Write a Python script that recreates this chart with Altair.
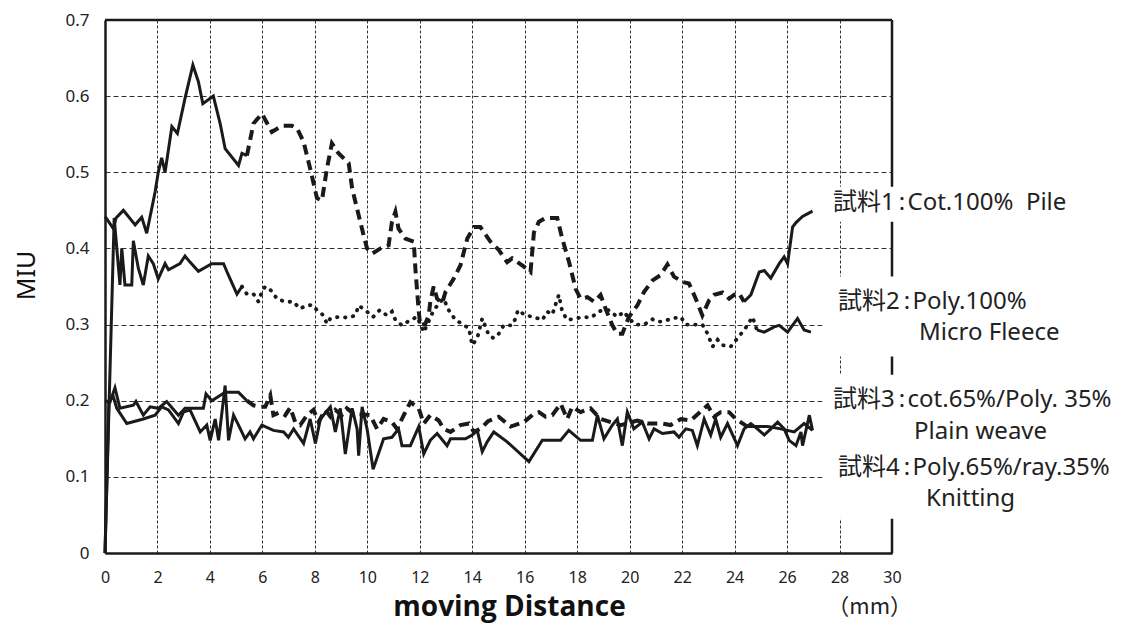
import altair as alt
import pandas as pd

# ---------------- data ----------------
S1_X = [0, 0.32, 0.42, 0.70, 1.15, 1.40, 1.59, 1.91, 2.03, 2.16,
        2.29, 2.55, 2.76, 3.05, 3.35, 3.56, 3.73, 4.13, 4.39, 4.58,
        5.09, 5.22, 5.41, 5.66, 5.98, 6.36, 6.74, 7.13, 7.32, 7.57,
        7.82, 8.08, 8.27, 8.46, 8.65, 8.90, 9.29, 9.42, 9.61, 9.86,
        9.99, 10.18, 10.50, 10.81, 10.94, 11.07, 11.19, 11.45, 11.77, 11.83,
        11.96, 12.02, 12.21, 12.34, 12.40, 12.53, 12.66, 12.85, 12.98, 13.29,
        13.55, 13.81, 14.06, 14.31, 14.69, 15.01, 15.33, 15.52, 15.97, 16.22,
        16.35, 16.54, 16.79, 17.24, 17.43, 17.69, 17.94, 18.13, 18.39, 18.64,
        18.89, 19.08, 19.34, 19.53, 19.72, 19.97, 20.29, 20.55, 20.87, 21.18,
        21.44, 21.69, 22.01, 22.26, 22.52, 22.77, 23.03, 23.22, 23.54, 23.79,
        23.98, 24.17, 24.36, 24.62, 24.94, 25.13, 25.38, 25.70, 25.89, 26.02,
        26.21, 26.34, 26.59, 26.97]
S1_Y = [0.442, 0.426, 0.440, 0.450, 0.431, 0.441, 0.420, 0.474, 0.500, 0.519,
        0.500, 0.560, 0.551, 0.597, 0.641, 0.619, 0.590, 0.600, 0.564, 0.531,
        0.509, 0.525, 0.522, 0.564, 0.577, 0.553, 0.561, 0.561, 0.558, 0.540,
        0.505, 0.466, 0.463, 0.505, 0.538, 0.525, 0.512, 0.479, 0.452, 0.417,
        0.400, 0.393, 0.400, 0.404, 0.435, 0.448, 0.426, 0.413, 0.409, 0.374,
        0.317, 0.299, 0.301, 0.312, 0.330, 0.350, 0.334, 0.328, 0.343, 0.360,
        0.378, 0.413, 0.428, 0.428, 0.409, 0.398, 0.382, 0.387, 0.376, 0.369,
        0.421, 0.435, 0.440, 0.440, 0.413, 0.382, 0.347, 0.334, 0.336, 0.330,
        0.339, 0.321, 0.299, 0.288, 0.288, 0.310, 0.325, 0.343, 0.358, 0.365,
        0.379, 0.363, 0.356, 0.354, 0.334, 0.312, 0.332, 0.339, 0.342, 0.334,
        0.339, 0.341, 0.330, 0.339, 0.369, 0.371, 0.361, 0.380, 0.389, 0.380,
        0.428, 0.434, 0.442, 0.449]

S2_X = [0, 0.35, 0.57, 0.64, 0.76, 1.02, 1.08, 1.27, 1.46, 1.65,
        1.84, 2.03, 2.29, 2.42, 2.86, 3.05, 3.24, 3.56, 4.07, 4.52,
        4.64, 4.77, 5.03, 5.22, 5.41, 5.66, 5.85, 5.98, 6.11, 6.36,
        6.55, 6.87, 7.19, 7.42, 7.63, 7.89, 8.08, 8.33, 8.46, 8.59,
        8.90, 9.29, 9.54, 9.67, 9.92, 10.22, 10.47, 10.75, 10.94, 11.07,
        11.32, 11.64, 11.90, 12.15, 12.53, 12.79, 12.91, 13.10, 13.36, 13.61,
        13.87, 14.00, 14.19, 14.38, 14.63, 14.82, 15.01, 15.20, 15.52, 15.65,
        15.74, 16.03, 16.35, 16.67, 16.86, 17.05, 17.21, 17.30, 17.43, 17.62,
        17.94, 18.26, 18.51, 18.89, 19.21, 19.53, 19.78, 19.97, 20.23, 20.55,
        20.87, 21.06, 21.25, 21.63, 21.95, 22.14, 22.45, 22.77, 22.97, 23.16,
        23.35, 23.54, 23.85, 24.11, 24.36, 24.49, 24.68, 24.85, 25.13, 25.51,
        25.70, 26.02, 26.40, 26.65, 26.91]
S2_Y = [0, 0.440, 0.352, 0.400, 0.352, 0.352, 0.410, 0.374, 0.352, 0.390,
        0.380, 0.360, 0.380, 0.372, 0.380, 0.390, 0.382, 0.370, 0.380, 0.380,
        0.370, 0.360, 0.340, 0.350, 0.340, 0.340, 0.330, 0.343, 0.350, 0.344,
        0.334, 0.330, 0.330, 0.321, 0.324, 0.326, 0.319, 0.312, 0.301, 0.308,
        0.310, 0.309, 0.312, 0.325, 0.319, 0.310, 0.319, 0.312, 0.317, 0.306,
        0.299, 0.306, 0.310, 0.290, 0.319, 0.330, 0.334, 0.319, 0.306, 0.301,
        0.295, 0.273, 0.282, 0.308, 0.286, 0.282, 0.288, 0.299, 0.299, 0.308,
        0.319, 0.312, 0.310, 0.306, 0.317, 0.313, 0.330, 0.339, 0.317, 0.306,
        0.308, 0.310, 0.309, 0.318, 0.319, 0.310, 0.317, 0.308, 0.300, 0.300,
        0.307, 0.304, 0.304, 0.308, 0.310, 0.300, 0.300, 0.300, 0.288, 0.271,
        0.280, 0.273, 0.271, 0.282, 0.293, 0.299, 0.310, 0.293, 0.290, 0.297,
        0.299, 0.290, 0.308, 0.293, 0.290]

S3_X = [0, 0.19, 0.38, 0.57, 1.08, 1.18, 1.46, 1.72, 2.03, 2.35,
        2.80, 3.05, 3.50, 3.75, 3.85, 4.07, 4.58, 5.09, 5.41, 5.66,
        5.92, 6.11, 6.30, 6.42, 6.68, 6.87, 7.06, 7.25, 7.44, 7.70,
        7.95, 8.14, 8.40, 8.59, 8.78, 9.03, 9.22, 9.48, 10.11, 10.37,
        10.62, 10.94, 11.13, 11.39, 11.64, 11.96, 12.15, 12.40, 12.72, 12.91,
        13.17, 13.55, 13.87, 14.06, 14.31, 14.60, 15.01, 15.46, 15.97, 16.35,
        16.54, 16.79, 17.05, 17.37, 17.62, 17.81, 18.13, 18.51, 18.89, 19.66,
        20.29, 20.68, 21.25, 21.56, 21.95, 22.33, 22.97, 23.22, 23.47, 23.79,
        24.05, 24.49, 25.26, 25.76, 26.27, 26.65, 26.97]
S3_Y = [0.200, 0.198, 0.217, 0.190, 0.194, 0.199, 0.181, 0.192, 0.190, 0.199,
        0.181, 0.190, 0.190, 0.190, 0.209, 0.200, 0.211, 0.211, 0.200, 0.194,
        0.192, 0.192, 0.207, 0.181, 0.185, 0.181, 0.191, 0.172, 0.168, 0.181,
        0.188, 0.172, 0.188, 0.179, 0.188, 0.181, 0.190, 0.183, 0.181, 0.163,
        0.176, 0.172, 0.163, 0.181, 0.198, 0.190, 0.170, 0.181, 0.174, 0.163,
        0.159, 0.168, 0.170, 0.159, 0.163, 0.173, 0.179, 0.166, 0.172, 0.183,
        0.185, 0.179, 0.181, 0.196, 0.176, 0.192, 0.185, 0.190, 0.176, 0.168,
        0.174, 0.170, 0.170, 0.168, 0.176, 0.174, 0.194, 0.179, 0.185, 0.185,
        0.176, 0.166, 0.166, 0.163, 0.159, 0.170, 0.161]

S4_X = [0, 0.15, 0.32, 0.45, 0.83, 1.46, 1.91, 2.16, 2.42, 2.80,
        2.99, 3.24, 3.63, 3.88, 4.01, 4.20, 4.33, 4.58, 4.71, 4.90,
        5.09, 5.34, 5.53, 5.66, 5.98, 6.42, 6.81, 6.99, 7.19, 7.57,
        7.82, 8.02, 8.21, 8.59, 8.78, 8.97, 9.16, 9.42, 9.61, 9.67,
        9.80, 9.99, 10.22, 10.62, 10.94, 11.19, 11.32, 11.64, 11.96, 12.15,
        12.40, 12.66, 13.04, 13.17, 13.74, 14.00, 14.19, 14.38, 14.57, 14.82,
        15.33, 16.16, 16.67, 17.37, 17.68, 18.13, 18.58, 18.77, 19.02, 19.34,
        19.53, 19.72, 19.91, 20.16, 20.48, 20.74, 20.93, 21.25, 21.69, 21.88,
        22.14, 22.39, 22.58, 22.84, 23.09, 23.28, 23.47, 23.73, 24.11, 24.36,
        24.62, 24.87, 25.13, 25.38, 25.64, 25.89, 26.08, 26.34, 26.53, 26.59,
        26.85, 26.97]
S4_Y = [0, 0.200, 0.205, 0.190, 0.170, 0.176, 0.181, 0.192, 0.188, 0.170,
        0.185, 0.188, 0.159, 0.168, 0.148, 0.176, 0.148, 0.220, 0.148, 0.181,
        0.168, 0.150, 0.159, 0.150, 0.168, 0.161, 0.159, 0.152, 0.163, 0.144,
        0.176, 0.144, 0.176, 0.192, 0.159, 0.190, 0.130, 0.190, 0.163, 0.128,
        0.192, 0.163, 0.110, 0.150, 0.152, 0.163, 0.141, 0.141, 0.166, 0.130,
        0.148, 0.157, 0.141, 0.150, 0.150, 0.155, 0.161, 0.133, 0.146, 0.159,
        0.146, 0.120, 0.148, 0.148, 0.161, 0.148, 0.148, 0.181, 0.150, 0.168,
        0.176, 0.141, 0.185, 0.163, 0.172, 0.150, 0.163, 0.157, 0.159, 0.152,
        0.163, 0.161, 0.141, 0.176, 0.155, 0.176, 0.152, 0.170, 0.141, 0.163,
        0.170, 0.163, 0.155, 0.163, 0.172, 0.163, 0.148, 0.141, 0.159, 0.141,
        0.181, 0.161]

SERIES = ["試料1", "試料2", "試料3", "試料4"]
SERIES_X = [S1_X, S2_X, S3_X, S4_X]
SERIES_Y = [S1_Y, S2_Y, S3_Y, S4_Y]
MID_STYLE = ["dashed", "dotted", "dashed", "solid"]
MID_START = [5.41, 5.22, 5.41, 0]
MID_END = [24.36, 24.85, 24.49, 26.97]

X_TICKS = list(range(0, 31, 2))
Y_TICKS = [0, 0.1, 0.2, 0.3, 0.4, 0.5, 0.6, 0.7]

TS, HS, NB = "\u2009", "\u200a", "\u00a0"
LABEL_TEXT = ["試料1" + TS + ":" + HS + "Cot.100%" + NB + " Pile",
              "試料2" + TS + ":" + HS + "Poly.100%",
              "Micro Fleece",
              "試料3" + TS + ":" + HS + "cot.65%/Poly. 35%",
              "Plain weave",
              "試料4" + TS + ":" + HS + "Poly.65%/ray.35%",
              "Knitting"]
LABEL_X = [27.75, 27.94, 31.03, 27.75, 30.84, 27.94, 31.3]
LABEL_Y = [0.460, 0.330, 0.289, 0.201, 0.159, 0.112, 0.071]

BOX_X1 = [27.35, 27.35, 27.35]
BOX_X2 = [38.8, 38.8, 38.8]
BOX_Y1 = [0.435, 0.258, 0.045]
BOX_Y2 = [0.481, 0.363, 0.234]

UNIT_TEXT = ["（mm）"]
UNIT_X = [29.15]
UNIT_Y = [-0.071]

# ---------------- build table ----------------
rows = []
for name, xs, ys, style, b1, b2 in zip(SERIES, SERIES_X, SERIES_Y, MID_STYLE, MID_START, MID_END):
    for x, y in zip(xs, ys):
        if x <= b1:
            rows.append({"series": name, "seg": name + "a", "style": "solid", "x": x, "y": y})
        if b1 <= x <= b2:
            rows.append({"series": name, "seg": name + "b", "style": style, "x": x, "y": y})
        if x >= b2:
            rows.append({"series": name, "seg": name + "c", "style": "solid", "x": x, "y": y})
df = pd.DataFrame(rows)

INK = "#1a1a1a"
TXT = "#222"
MIXED = "Noto Sans, Noto Sans CJK JP"

x_axis = alt.Axis(values=X_TICKS, grid=True, gridDash=[3, 2], gridColor="#333", gridWidth=1,
                  ticks=False, domain=True, domainColor=INK, domainWidth=2.5, labelFlush=False,
                  labelFont="Noto Sans", labelFontSize=16, labelPadding=16, labelColor=TXT,
                  title="moving Distance", titleFont="Open Sans", titleFontSize=28,
                  titleFontWeight="bold", titleColor="#111", titleX=404, titleY=62,
                  titleBaseline="alphabetic")
y_axis = alt.Axis(values=Y_TICKS, format=".1~f", grid=True, gridDash=[5, 3], gridColor="#333",
                  gridWidth=1, ticks=False, domain=True, domainColor=INK, domainWidth=2.5,
                  labelFlush=False, labelFont="Noto Sans", labelFontSize=17, labelPadding=16,
                  labelColor=TXT, title="MIU", titleFont="Noto Sans", titleFontSize=25,
                  titleFontWeight="normal", titleColor="#111", titleX=-79, titleY=255,
                  titleBaseline="middle", titleAngle=270)

X = alt.X("x:Q", scale=alt.Scale(domain=[0, 30], nice=False, zero=False), axis=x_axis)
Y = alt.Y("y:Q", scale=alt.Scale(domain=[0, 0.7], nice=False, zero=False), axis=y_axis)

base = alt.Chart(df)
solid = base.transform_filter(alt.datum.style == "solid").mark_line(
    color=INK, strokeWidth=3.0).encode(x=X, y=Y, detail="seg:N")
dashed = base.transform_filter(alt.datum.style == "dashed").mark_line(
    color=INK, strokeWidth=4.0, strokeDash=[10, 6]).encode(x="x:Q", y="y:Q", detail="seg:N")
dotted = base.transform_filter(alt.datum.style == "dotted").mark_line(
    color=INK, strokeWidth=3.8, strokeDash=[0.5, 7.5], strokeCap="round").encode(
    x="x:Q", y="y:Q", detail="seg:N")

top_rule = alt.Chart(pd.DataFrame({"y": [Y_TICKS[-1]]})).mark_rule(
    color=INK, strokeWidth=2.5).encode(y="y:Q")
right_rule = alt.Chart(pd.DataFrame({"x": [X_TICKS[-1]]})).mark_rule(
    color=INK, strokeWidth=2.5).encode(x="x:Q")

boxes = alt.Chart(pd.DataFrame({"x": BOX_X1, "x2": BOX_X2, "y": BOX_Y1, "y2": BOX_Y2})).mark_rect(
    fill="white").encode(x="x:Q", x2="x2:Q", y="y:Q", y2="y2:Q")

labels = alt.Chart(pd.DataFrame({"x": LABEL_X, "y": LABEL_Y, "t": LABEL_TEXT})).mark_text(
    align="left", baseline="middle", font=MIXED, fontSize=24, color=TXT).encode(
    x="x:Q", y="y:Q", text="t:N")

unit = alt.Chart(pd.DataFrame({"x": UNIT_X, "y": UNIT_Y, "t": UNIT_TEXT})).mark_text(
    align="center", baseline="middle", font="Noto Sans CJK JP", fontSize=22, color=TXT).encode(
    x="x:Q", y="y:Q", text="t:N")

chart = alt.layer(top_rule, right_rule, solid, dashed, dotted, boxes, labels, unit).properties(
    width=787, height=533,
    padding={"left": 97, "top": 12, "right": 229, "bottom": 70},
    autosize=alt.AutoSizeParams(type="none"),
    background="white",
).configure_view(stroke=None)

chart.save("out.html", embed_options={"renderer": "svg", "actions": False})
